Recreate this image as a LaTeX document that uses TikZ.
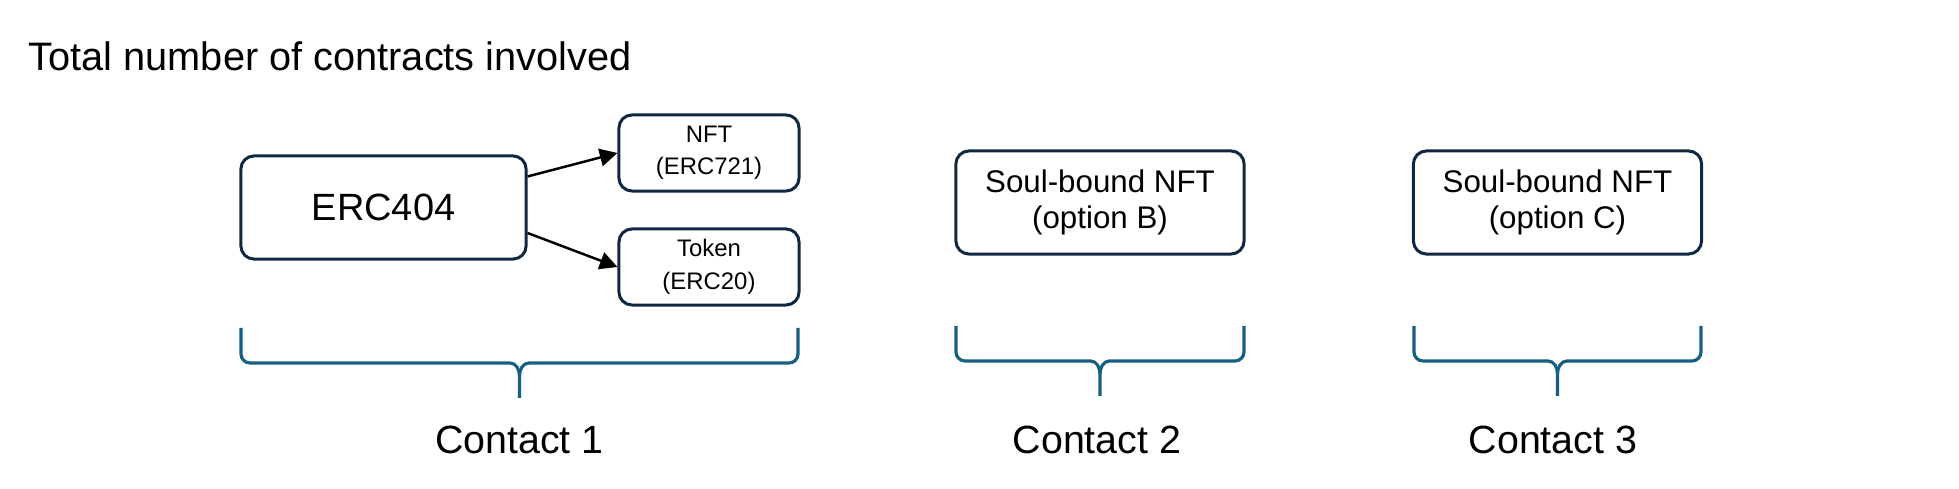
\documentclass[tikz,border=0pt]{standalone}
\usepackage{fontspec}
\setmainfont{Liberation Sans}
\usetikzlibrary{arrows.meta}
\definecolor{boxline}{HTML}{0E2841}
\definecolor{braceline}{HTML}{156082}

\begin{document}
\begin{tikzpicture}[x=0.01cm,y=-0.01cm,
  contract/.style={draw=boxline,line width=0.85pt,rounded corners=1.3mm,align=center,inner sep=0pt},
  brace/.style={draw=braceline,line width=0.9pt,line join=round},
  arr/.style={-{Triangle[length=5pt,width=5pt]},line width=0.7pt}]
\useasboundingbox (0,0) rectangle (1959,489);
\node[anchor=west,inner sep=0pt,font=\fontsize{11.3}{13}\selectfont] (title) at (28,56) {Total number of contracts involved};
% contract 1
\node[contract,minimum width=2.85cm,minimum height=1.03cm,font=\fontsize{10.8}{13}\selectfont] (erc) at (383.5,207.5) {ERC404};
\node[contract,minimum width=1.8cm,minimum height=0.76cm,font=\fontsize{6.8}{9.2}\selectfont] (nft) at (709,153) {NFT\\(ERC721)};
\node[contract,minimum width=1.8cm,minimum height=0.76cm,font=\fontsize{6.8}{9.2}\selectfont] (tok) at (709,267) {Token\\(ERC20)};
\draw[arr] ([yshift=3.1mm]erc.east) -- (nft.west);
\draw[arr] ([yshift=-2.55mm]erc.east) -- (tok.west);
% contract 2 and 3
\node[contract,minimum width=2.88cm,minimum height=1.03cm,font=\fontsize{8.9}{10.4}\selectfont] (sbb) at (1100,202.5) {Soul-bound NFT\\(option B)};
\node[contract,minimum width=2.88cm,minimum height=1.03cm,font=\fontsize{8.9}{10.4}\selectfont] (sbc) at (1557.5,202.5) {Soul-bound NFT\\(option C)};
% braces
\draw[brace] (241,328) -- (241,354) to[out=-90,in=180] (250,363) -- (510,363) to[out=0,in=90] (519.5,376) -- (519.5,398);
\draw[brace] (798,328) -- (798,354) to[out=-90,in=0] (789,363) -- (529,363) to[out=180,in=90] (519.5,376);
\draw[brace] (956,326) -- (956,352) to[out=-90,in=180] (965,361) -- (1090.5,361) to[out=0,in=90] (1100,374) -- (1100,396);
\draw[brace] (1244,326) -- (1244,352) to[out=-90,in=0] (1235,361) -- (1109.5,361) to[out=180,in=90] (1100,374);
\draw[brace] (1414,326) -- (1414,352) to[out=-90,in=180] (1423,361) -- (1548,361) to[out=0,in=90] (1557.5,374) -- (1557.5,396);
\draw[brace] (1701,326) -- (1701,352) to[out=-90,in=0] (1692,361) -- (1567,361) to[out=180,in=90] (1557.5,374);
\node[font=\fontsize{11.2}{13}\selectfont] (c1) at (519.5,440) {Contact 1};
\node[font=\fontsize{11.2}{13}\selectfont] (c2) at (1097,440) {Contact 2};
\node[font=\fontsize{11.2}{13}\selectfont] (c3) at (1553,440) {Contact 3};
\end{tikzpicture}
\end{document}
